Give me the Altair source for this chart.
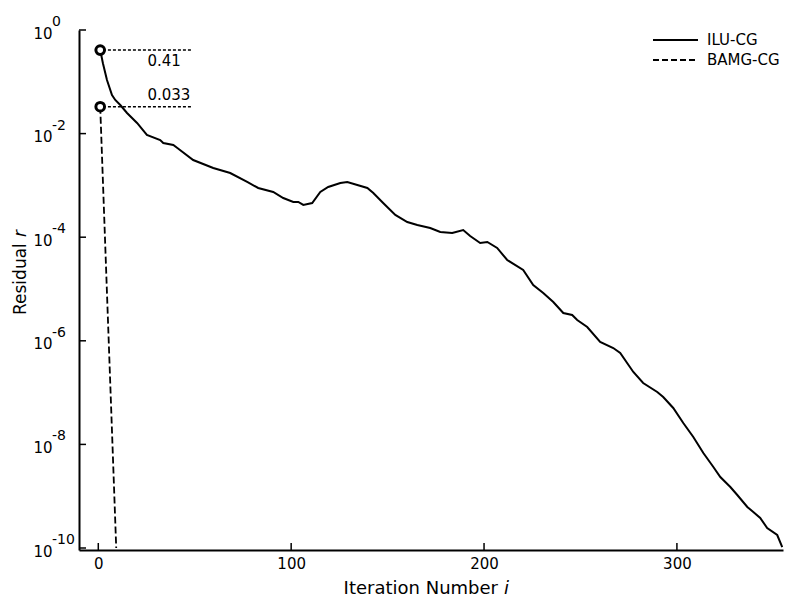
import altair as alt
import pandas as pd

# ---- data ----
ilu_iter = [1, 2.4, 4.5, 7.1, 8.8, 11.4, 14.9, 20.1, 25.2, 32.1, 33.7, 38.9, 41.0, 49.2,
            59.6, 68.4, 77.2, 82.9, 90.7, 95.9, 101.1, 103.7, 106.3, 110.9, 115.1, 119.2,
            125.5, 129.1, 134.3, 139.5, 142.6, 147.7, 154.0, 160.2, 165.4, 172.1, 177.3,
            183.5, 189.2, 192.8, 198.0, 201.7, 206.8, 212.0, 220.3, 225.5, 230.7, 235.9,
            241.1, 245.7, 248.3, 253.5, 260.2, 267.0, 270.6, 277.4, 282.5, 289.8, 292.9,
            298.1, 303.3, 308.5, 313.7, 318.9, 322.5, 327.7, 331.3, 336.5, 339.6, 343.2,
            346.8, 352.0, 354.6]
ilu_log = [-0.387, -0.643, -0.965, -1.255, -1.351, -1.448, -1.602, -1.795, -2.027,
           -2.124, -2.181, -2.220, -2.278, -2.510, -2.664, -2.761, -2.934, -3.050, -3.127,
           -3.243, -3.320, -3.320, -3.378, -3.340, -3.127, -3.031, -2.954, -2.934, -2.992,
           -3.050, -3.147, -3.340, -3.571, -3.707, -3.764, -3.822, -3.900, -3.919, -3.861,
           -3.977, -4.112, -4.093, -4.208, -4.440, -4.633, -4.923, -5.077, -5.251, -5.463,
           -5.502, -5.598, -5.734, -6.023, -6.139, -6.236, -6.602, -6.815, -6.988, -7.085,
           -7.297, -7.587, -7.857, -8.166, -8.436, -8.629, -8.822, -8.977, -9.208, -9.305,
           -9.421, -9.614, -9.749, -9.981]
ilu_res = [10 ** v for v in ilu_log]

bamg_iter = [1, 9.3]
bamg_res = [0.033, 1e-10]

marker_iter = [1, 1]
marker_res = [0.41, 0.033]
marker_labels = ["0.41", "0.033"]
marker_line_end = [49, 49]

x_ticks = [0, 100, 200, 300]
y_ticks = [1, 1e-2, 1e-4, 1e-6, 1e-8, 1e-10]
y_exps = ["0", "-2", "-4", "-6", "-8", "-10"]

legend_names = ["ILU-CG", "BAMG-CG"]

FONT = "DejaVu Sans"
W, H = 704, 520

xscale = alt.Scale(domain=[-10, 355], nice=False, zero=False)
yscale = alt.Scale(type="log", domain=[9.15e-11, 1], nice=False)

xaxis = alt.Axis(values=x_ticks, domain=True, domainWidth=2, domainColor="black",
                 ticks=False, grid=False, labelFont=FONT, labelFontSize=15,
                 labelColor="black", labelPadding=6, title=None)
yaxis = alt.Axis(values=y_ticks, labelExpr="'10'", domain=True, domainWidth=2,
                 domainColor="black", ticks=False, grid=False, labelFont=FONT,
                 labelFontSize=15, labelColor="black", labelPadding=27,
                 labelBaseline="middle", labelOffset=3, title=None)


def X(field="i"):
    return alt.X(f"{field}:Q", scale=xscale, axis=xaxis, title=None)


def Y(field="r"):
    return alt.Y(f"{field}:Q", scale=yscale, axis=yaxis, title=None)


ilu_df = pd.DataFrame({"i": ilu_iter, "r": ilu_res})
bamg_df = pd.DataFrame({"i": bamg_iter, "r": bamg_res})
mark_df = pd.DataFrame({"i": marker_iter, "r": marker_res, "lab": marker_labels,
                        "i2": marker_line_end, "i0": [5, 5], "tx": [25.5, 25.5]})
ytick_df = pd.DataFrame({"r": y_ticks, "e": y_exps})
xtick_df = pd.DataFrame({"i": x_ticks})

ilu = alt.Chart(ilu_df).mark_line(color="black", strokeWidth=2).encode(x=X(), y=Y())
bamg = alt.Chart(bamg_df).mark_line(color="black", strokeWidth=1.8,
                                    strokeDash=[7, 3]).encode(x=X(), y=Y())

dots = alt.Chart(mark_df).mark_rule(color="black", strokeWidth=1.5,
                                    strokeDash=[3, 2]).encode(
    x=X("i0"), x2="i2:Q", y=Y())
circles = alt.Chart(mark_df).mark_point(shape="circle", size=75, filled=False,
                                        fill="white", fillOpacity=1, color="black",
                                        strokeWidth=3, opacity=1).encode(x=X(), y=Y())
lab_below = alt.Chart(mark_df.iloc[[0]]).mark_text(
    font=FONT, fontSize=15, align="left", baseline="middle", dy=11, color="black"
).encode(x=X("tx"), y=Y(), text="lab:N")
lab_above = alt.Chart(mark_df.iloc[[1]]).mark_text(
    font=FONT, fontSize=15, align="left", baseline="middle", dy=-12, color="black"
).encode(x=X("tx"), y=Y(), text="lab:N")

yticks = alt.Chart(ytick_df).mark_rule(color="black", strokeWidth=1.5).encode(
    y=Y(), x=alt.value(0), x2=alt.value(7))
xticks = alt.Chart(xtick_df).mark_rule(color="black", strokeWidth=1.5).encode(
    x=X(), y=alt.value(H), y2=alt.value(H - 7))
exps = alt.Chart(ytick_df).mark_text(
    font=FONT, fontSize=14, align="left", baseline="middle", dy=-8, color="black"
).encode(y=Y(), x=alt.value(-27), text="e:N")

# axis titles (with italic variable)
xt1 = alt.Chart(pd.DataFrame({"t": ["Iteration Number"]})).mark_text(
    font=FONT, fontSize=18, align="right", baseline="middle", color="black"
).encode(text="t:N", x=alt.value(419), y=alt.value(559))
xt2 = alt.Chart(pd.DataFrame({"t": ["i"]})).mark_text(
    font=FONT, fontSize=18, fontStyle="italic", align="left", baseline="middle",
    color="black").encode(text="t:N", x=alt.value(425), y=alt.value(559))
yt1 = alt.Chart(pd.DataFrame({"t": ["Residual"]})).mark_text(
    font=FONT, fontSize=17, align="left", baseline="middle", angle=270, color="black"
).encode(text="t:N", x=alt.value(-58), y=alt.value(285))
yt2 = alt.Chart(pd.DataFrame({"t": ["r"]})).mark_text(
    font=FONT, fontSize=17, fontStyle="italic", align="left", baseline="middle",
    angle=270, color="black").encode(text="t:N", x=alt.value(-58), y=alt.value(207))

# legend
leg_solid = alt.Chart(pd.DataFrame({"n": [legend_names[0]]})).mark_rule(
    color="black", strokeWidth=2).encode(x=alt.value(574), x2=alt.value(619),
                                         y=alt.value(10))
leg_dash = alt.Chart(pd.DataFrame({"n": [legend_names[1]]})).mark_rule(
    color="black", strokeWidth=1.8, strokeDash=[6, 3]).encode(
    x=alt.value(574), x2=alt.value(619), y=alt.value(30))
leg_txt = alt.Chart(pd.DataFrame({"n": legend_names, "yy": [10, 30]})).mark_text(
    font=FONT, fontSize=15, align="left", baseline="middle", color="black"
).encode(text="n:N", x=alt.value(628), y=alt.Y("yy:Q", scale=None, axis=None))

chart = alt.layer(
    ilu, bamg, dots, circles, lab_below, lab_above, yticks, xticks, exps,
    xt1, xt2, yt1, yt2, leg_solid, leg_dash, leg_txt
).properties(
    width=W, height=H,
    background="white",
    autosize=alt.AutoSizeParams(type="none"),
    padding={"left": 71, "top": 22, "right": 9, "bottom": 51},
).configure_view(stroke=None)

chart.save("out.html", embed_options={"renderer": "svg", "actions": False})
